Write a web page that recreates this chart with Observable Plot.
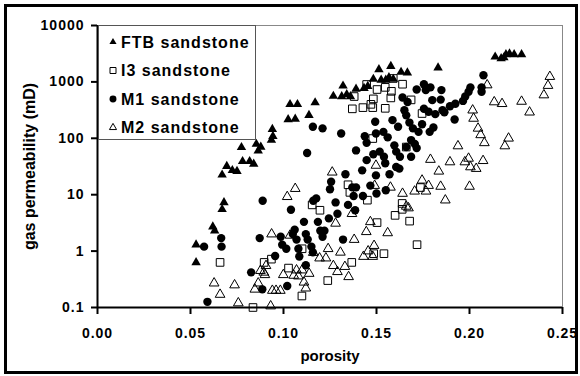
<!DOCTYPE html>
<html><head><meta charset="utf-8">
<script src="https://cdn.jsdelivr.net/npm/d3@7"></script>
<script src="https://cdn.jsdelivr.net/npm/@observablehq/plot@0.6"></script>
<style>
body{margin:0;background:#fff}
#chart{position:relative;width:580px;height:376px}
</style>
</head><body><div id="chart"></div>
<script>
const seriesNames = ["FTB sandstone", "I3 sandstone", "M1 sandstone", "M2 sandstone"];
const xTicks = [0, 0.05, 0.10, 0.15, 0.20, 0.25];
const yTicks = [0.1, 1, 10, 100, 1000, 10000];
const yTickLabels = ["0.1", "1", "10", "100", "1000", "10000"];

const ftbPorosity = [0.053,0.053,0.062,0.063,0.068,0.067,0.067,0.0695,0.0725,0.075,0.0774,0.078,0.0818,0.084,0.0854,0.0864,0.0878,0.094,0.0943,0.0935,0.1035,0.1075,0.1025,0.1063,0.1137,0.117,0.1268,0.132,0.1313,0.134,0.136,0.139,0.1433,0.1453,0.1483,0.1513,0.1525,0.155,0.1567,0.1577,0.159,0.1632,0.1666,0.1831,0.2138,0.217,0.2196,0.2215,0.224,0.228,0.2185];
const ftbPerm = [1.3,0.63,2.7,2.3,7.3,5.5,22.5,32,27,26,69,39,39,35,79,60,70,145,109,93,400,400,215,220,257,430,560,850,550,600,550,750,770,840,1120,1660,1080,1080,1200,1900,1120,1490,1450,1780,2780,2600,3060,3150,3060,3060,2700];

const i3Porosity = [0.0659,0.0836,0.0896,0.0935,0.1027,0.1099,0.110,0.1154,0.1196,0.1238,0.1367,0.1347,0.1357,0.137,0.138,0.1427,0.1447,0.147,0.148,0.1483,0.1503,0.148,0.1485,0.1503,0.1451,0.154,0.1547,0.1547,0.1577,0.158,0.159,0.164,0.1686,0.160,0.1638,0.1638,0.1678,0.1718,0.1736,0.1745,0.166];
const i3Perm = [0.63,0.1,0.63,0.72,0.5,0.16,1.1,6.6,5.3,0.3,0.63,15,11,333,550,350,900,400,350,500,733,99,0.9,3.2,8,0.9,340,800,520,680,1150,910,480,4.3,7,5.5,3.4,1.3,13.4,275,70];

const m1Porosity = [0.0573,0.0665,0.0667,0.0591,0.0826,0.0886,0.0872,0.0888,0.0955,0.0985,0.0993,0.1015,0.102,0.104,0.106,0.105,0.107,0.108,0.1085,0.111,0.112,0.113,0.112,0.1127,0.1158,0.121,0.116,0.1176,0.1185,0.1198,0.121,0.122,0.115,0.1158,0.1244,0.125,0.1256,0.128,0.129,0.131,0.132,0.1333,0.1347,0.137,0.1377,0.139,0.1385,0.139,0.1423,0.1427,0.1437,0.1447,0.1447,0.1467,0.1483,0.1493,0.1497,0.1497,0.15,0.1517,0.1537,0.154,0.1547,0.155,0.156,0.157,0.1586,0.1596,0.1606,0.1606,0.1616,0.1626,0.1623,0.164,0.165,0.166,0.166,0.1667,0.1677,0.1686,0.1686,0.1696,0.1706,0.1716,0.1716,0.1726,0.1745,0.1755,0.1755,0.1765,0.178,0.1786,0.179,0.18,0.1806,0.1816,0.1845,0.1849,0.1855,0.1865,0.1895,0.192,0.1924,0.1965,0.1977,0.1995,0.2005,0.2065,0.2065,0.2075];
const m1Perm = [1.2,1.7,1.2,0.126,0.42,0.21,1.7,7.8,0.82,1.8,1.3,1.1,0.24,5.4,2.4,2,1.6,1.1,0.8,3.3,2,1.6,0.56,55,160,150,7.8,8.6,3.3,2.3,1.8,2.3,1.2,0.95,3.8,12.5,17,7.3,4.6,122,1.6,23,6.6,13.5,9.5,13.5,5.3,61,27,9.5,109,83,41,14.5,52,196,122,22,10.5,58,130,47,36,12,104,23,210,75,58,31,160,47,29,530,315,255,70,440,190,47,93,150,79,67,735,130,177,335,910,720,295,130,800,475,155,268,485,715,315,290,370,215,410,460,550,670,800,800,670,1310];

const m2Porosity = [0.0627,0.0659,0.0737,0.0757,0.0846,0.0864,0.0876,0.0894,0.0906,0.09,0.0936,0.0931,0.094,0.096,0.0983,0.0999,0.102,0.1035,0.1055,0.1063,0.107,0.108,0.11,0.111,0.112,0.1138,0.116,0.1194,0.1228,0.124,0.1262,0.128,0.1268,0.129,0.1306,0.133,0.135,0.1368,0.138,0.143,0.1445,0.1455,0.1467,0.148,0.1487,0.1497,0.149,0.156,0.1575,0.164,0.166,0.1672,0.1705,0.1745,0.1766,0.178,0.179,0.1835,0.1845,0.187,0.1895,0.1938,0.1975,0.1995,0.2,0.2005,0.2017,0.2022,0.2036,0.2046,0.206,0.2073,0.208,0.2095,0.2133,0.2175,0.219,0.221,0.228,0.2323,0.24,0.2422,0.2432];
const m2Perm = [0.27,0.17,0.25,0.12,0.21,0.27,0.45,0.42,0.55,0.38,2,0.106,0.2,0.2,0.2,0.38,9.2,1.9,0.37,12.8,0.46,0.36,0.46,0.28,0.22,0.4,0.94,0.75,0.75,1.1,25,3.1,0.55,0.43,0.95,0.53,0.35,4.6,1.6,0.8,2.2,1.0,3.3,0.8,1.25,33,14.5,2.1,13.5,10.5,6.2,5.8,11.5,18,11.5,14.5,42,26,14,8,38,73,38,44,14,31,315,225,29,150,115,40,83,880,440,410,73,100,450,290,585,860,1240];

const rows = (xs, ys) => xs.map((x, i) => ({porosity: x, perm: ys[i]}));
const ftb = rows(ftbPorosity, ftbPerm);
const i3 = rows(i3Porosity, i3Perm);
const m1 = rows(m1Porosity, m1Perm);
const m2 = rows(m2Porosity, m2Perm);

const font = "Arial, 'Liberation Sans', sans-serif";

const plot = Plot.plot({
  width: 580, height: 376,
  marginLeft: 97, marginRight: 18, marginTop: 25, marginBottom: 69,
  style: {fontFamily: font, fontSize: "14px", fontWeight: "bold", color: "#000", background: "#fff", overflow: "visible"},
  x: {domain: [0, 0.25]},
  y: {type: "log", domain: [0.1, 10000]},
  marks: [
    Plot.frame({stroke: "#888", strokeWidth: 1}),
    Plot.axisX({ticks: xTicks, tickFormat: d3.format(".2f"), tickSize: 7, tickPadding: 14, strokeWidth: 2, label: null, fontSize: 14, fontWeight: "bold", fill: "#000"}),
    Plot.axisY({ticks: yTicks, tickFormat: d => yTickLabels[yTicks.indexOf(d)], tickSize: 6, tickPadding: 7, strokeWidth: 2, label: null, fontSize: 14, fontWeight: "bold", fill: "#000"}),
    Plot.ruleX([0], {stroke: "#000", strokeWidth: 2}),
    Plot.ruleY([0.1], {stroke: "#000", strokeWidth: 2}),
    Plot.dot(ftb, {x: "porosity", y: "perm", symbol: "triangle", fill: "#000", stroke: "none", r: 3.5}),
    Plot.dot(i3, {x: "porosity", y: "perm", symbol: "square", fill: "none", stroke: "#000", strokeWidth: 1, r: 4.3}),
    Plot.dot(m1, {x: "porosity", y: "perm", symbol: "circle", fill: "#000", stroke: "none", r: 4.2}),
    Plot.dot(m2, {x: "porosity", y: "perm", symbol: "triangle", fill: "none", stroke: "#000", strokeWidth: 1, r: 3.6}),
    Plot.text(["porosity"], {frameAnchor: "bottom", dy: 49, textAnchor: "middle", lineAnchor: "middle", fontSize: 15, fontWeight: "bold", fill: "#000"}),
    Plot.text(["gas permeability (mD)"], {frameAnchor: "left", dx: -68, rotate: -90, textAnchor: "middle", lineAnchor: "middle", fontSize: 16, fontWeight: "bold", fill: "#000"})
  ]
});

const svg = d3.select(plot);
svg.selectAll('g[aria-label$="tick label"] text').attr("letter-spacing", "1px");

// legend box and outer border
const lg = svg.append("g").attr("text-anchor", "start");
lg.append("rect").attr("x", 98.5).attr("y", 25.5).attr("width", 157).attr("height", 114)
  .attr("fill", "#fff").attr("stroke", "#555").attr("stroke-width", 1);
const legendSym = [
  {type: d3.symbolTriangle, size: 22, fill: "#000", stroke: "none"},
  {type: d3.symbolSquare, size: 36, fill: "none", stroke: "#000"},
  {type: d3.symbolCircle, size: 38, fill: "#000", stroke: "none"},
  {type: d3.symbolTriangle, size: 22, fill: "none", stroke: "#000"}
];
seriesNames.forEach((name, i) => {
  const cy = 42 + i * 28.5;
  lg.append("path").attr("d", d3.symbol(legendSym[i].type, legendSym[i].size)())
    .attr("transform", `translate(113,${cy})`)
    .attr("fill", legendSym[i].fill).attr("stroke", legendSym[i].stroke).attr("stroke-width", 1);
  lg.append("text").attr("x", 121).attr("y", cy).attr("dy", "0.35em")
    .attr("text-anchor", "start")
    .attr("font-size", 16).attr("font-weight", "bold").attr("font-family", font)
    .attr("letter-spacing", "1px").attr("fill", "#000").text(name);
});
svg.append("rect").attr("x", 5.5).attr("y", 5.5).attr("width", 571).attr("height", 367)
  .attr("fill", "none").attr("stroke", "#000").attr("stroke-width", 3);

document.getElementById("chart").appendChild(plot);
</script>
</body></html>
